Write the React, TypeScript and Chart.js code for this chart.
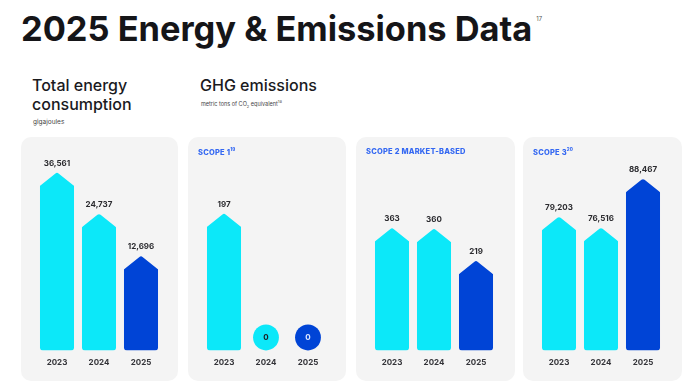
import React, { useEffect, useRef } from "react";
import { Chart, registerables } from "chart.js";

Chart.register(...registerables);

const years = ["2023", "2024", "2025"];
const energyValues = [36561, 24737, 12696];
const scope1Values = [197, 0, 0];
const scope2Values = [363, 360, 219];
const scope3Values = [79203, 76516, 88467];

const CYAN = "#0ce8f9";
const BLUE = "#0044d6";
const barColors = [CYAN, CYAN, BLUE];
const FONT = "Inter, 'Open Sans', sans-serif";

const arrowPlugin = {
  id: "arrowCaps",
  afterDatasetsDraw(chart: any) {
    const ctx = chart.ctx as CanvasRenderingContext2D;
    const ds = chart.data.datasets[0];
    const meta = chart.getDatasetMeta(0);
    meta.data.forEach((el: any, i: number) => {
      const v = ds.data[i] as number;
      const { x, y, base, width } = el.getProps(["x", "y", "base", "width"], true);
      const color = ds.backgroundColor[i];
      ctx.save();
      if (v === 0) {
        const r = width * 0.38;
        ctx.beginPath();
        ctx.arc(x, base - r, r, 0, Math.PI * 2);
        ctx.fillStyle = color;
        ctx.fill();
        ctx.fillStyle = color === BLUE ? "#dfe8ff" : "#1e1e22";
        ctx.font = `bold 8px ${FONT}`;
        ctx.textAlign = "center";
        ctx.textBaseline = "middle";
        ctx.fillText("0", x, base - r + 0.5);
      } else {
        const capH = width * 0.4;
        const hw = width / 2;
        ctx.beginPath();
        ctx.moveTo(x - hw, y + 2);
        ctx.arcTo(x - hw, y, x, y - capH, 2);
        ctx.arcTo(x, y - capH, x + hw, y, 2.5);
        ctx.arcTo(x + hw, y, x + hw, y + 2, 2);
        ctx.lineTo(x + hw, y + 2);
        ctx.closePath();
        ctx.fillStyle = color;
        ctx.fill();
        ctx.fillStyle = "#2b2b2f";
        ctx.font = `bold 8px ${FONT}`;
        ctx.textAlign = "center";
        ctx.textBaseline = "middle";
        ctx.fillText(v.toLocaleString("en-US"), x, y - capH - 9);
      }
      ctx.restore();
    });
  },
};

type PanelProps = {
  values: number[];
  yMin: number;
  yMax: number;
  width: number;
  height: number;
};

function BarPanel({ values, yMin, yMax, width, height }: PanelProps) {
  const ref = useRef<HTMLCanvasElement | null>(null);
  useEffect(() => {
    if (!ref.current) return;
    const chart = new Chart(ref.current, {
      type: "bar",
      data: {
        labels: years,
        datasets: [
          {
            data: values,
            base: yMin,
            backgroundColor: barColors,
            borderRadius: { topLeft: 0, topRight: 0, bottomLeft: 3, bottomRight: 3 },
            borderSkipped: false,
            barPercentage: 0.81,
            categoryPercentage: 1,
          },
        ],
      },
      options: {
        responsive: false,
        animation: false,
        events: [],
        layout: { padding: { left: 15, right: width - 141, top: 0, bottom: 7 } },
        plugins: { legend: { display: false }, tooltip: { enabled: false } },
        scales: {
          x: {
            grid: { display: false, drawTicks: false },
            border: { display: false },
            ticks: {
              padding: 7,
              color: "#333338",
              font: { family: FONT, size: 8, weight: "bold" },
            },
          },
          y: {
            display: false,
            min: yMin,
            max: yMax,
          },
        },
      },
      plugins: [arrowPlugin],
    } as any);
    return () => chart.destroy();
  }, []);
  return <canvas ref={ref} width={width} height={height} style={{ display: "block" }} />;
}

const panelStyle = (left: number, width: number): React.CSSProperties => ({
  position: "absolute",
  left,
  top: 137,
  width,
  height: 244,
  background: "#f4f4f4",
  borderRadius: 10,
  overflow: "hidden",
});

const scopeStyle: React.CSSProperties = {
  position: "absolute",
  left: 10,
  top: 10,
  fontFamily: FONT,
  fontWeight: 800,
  fontSize: 7.5,
  color: "#3468f2",
  letterSpacing: 0.2,
  zIndex: 2,
  whiteSpace: "nowrap",
};

export default function App() {
  return (
    <div
      style={{
        position: "absolute",
        left: 0,
        top: 0,
        width: 696,
        height: 385,
        background: "#ffffff",
        overflow: "hidden",
        fontFamily: FONT,
      }}
    >
      <div
        style={{
          position: "absolute",
          left: 21,
          top: 9,
          fontSize: 34.4,
          fontWeight: 700,
          lineHeight: "40px",
          color: "#151518",
          whiteSpace: "nowrap",
          letterSpacing: 0,
        }}
      >
        2025 Energy &amp; Emissions Data
        <sup style={{ fontSize: 6, fontWeight: 400, color: "#555", verticalAlign: "top", lineHeight: "20px", marginLeft: 4 }}>17</sup>
      </div>

      <div style={{ position: "absolute", left: 32, top: 76, fontSize: 16, fontWeight: 500, lineHeight: "19px", color: "#1a1a1e" }}>
        Total energy
        <br />
        consumption
      </div>
      <div style={{ position: "absolute", left: 33, top: 118, fontSize: 6.5, color: "#444" }}>gigajoules</div>

      <div style={{ position: "absolute", left: 200, top: 76, fontSize: 16, fontWeight: 500, lineHeight: "19px", color: "#1a1a1e" }}>
        GHG emissions
      </div>
      <div style={{ position: "absolute", left: 201, top: 99, fontSize: 5.5, color: "#444", whiteSpace: "nowrap" }}>
        metric tons of CO<sub style={{ fontSize: 4 }}>2</sub> equivalent<sup style={{ fontSize: 4 }}>18</sup>
      </div>

      <div style={panelStyle(21, 157)}>
        <BarPanel values={energyValues} yMin={-10500} yMax={50500} width={157} height={244} />
      </div>
      <div style={panelStyle(188, 158)}>
        <div style={scopeStyle}>
          SCOPE 1<sup style={{ fontSize: 4.5 }}>19</sup>
        </div>
        <BarPanel values={scope1Values} yMin={0} yMax={340} width={158} height={244} />
      </div>
      <div style={panelStyle(356, 159)}>
        <div style={scopeStyle}>SCOPE 2 MARKET-BASED</div>
        <BarPanel values={scope2Values} yMin={-117} yMax={822} width={159} height={244} />
      </div>
      <div style={panelStyle(523, 159)}>
        <div style={scopeStyle}>
          SCOPE 3<sup style={{ fontSize: 4.5 }}>20</sup>
        </div>
        <BarPanel values={scope3Values} yMin={49900} yMax={101900} width={159} height={244} />
      </div>
    </div>
  );
}
